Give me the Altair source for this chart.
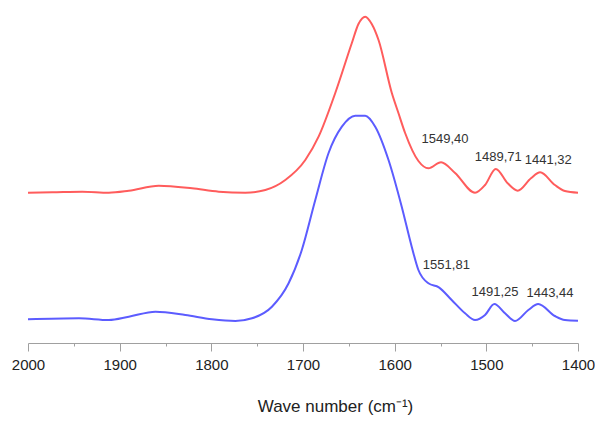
import altair as alt
import pandas as pd

# Red spectrum (upper curve): wavenumber (cm-1) and absorbance (arbitrary units, offset)
red_wn = [2000, 1973.5, 1940.8, 1911.8, 1890.0, 1857.3, 1821.0, 1791.9, 1762.9, 1741.1,
          1719.3, 1697.5, 1683.0, 1664.8, 1646.7, 1639.5, 1632.1, 1625.0, 1617.6, 1603.1,
          1595.9, 1588.6, 1574.1, 1563.2, 1549.4, 1534.1, 1512.3, 1501.4, 1489.7, 1476.7,
          1465.8, 1451.3, 1441.3, 1425.2, 1414.3, 1400]
red_val = [1.503, 1.507, 1.513, 1.503, 1.523, 1.573, 1.547, 1.513, 1.503, 1.53,
           1.63, 1.83, 2.063, 2.5, 3.0, 3.19, 3.263, 3.19, 3.03, 2.5,
           2.3, 2.1, 1.82, 1.747, 1.807, 1.70, 1.503, 1.58, 1.74, 1.597,
           1.523, 1.647, 1.707, 1.58, 1.52, 1.503]

# Blue spectrum (lower curve)
blue_wn = [2000, 1944.4, 1911.8, 1890.0, 1860.9, 1828.3, 1799.3, 1773.8, 1755.7, 1733.9,
           1715.7, 1701.3, 1686.6, 1672.1, 1657.6, 1643.0, 1632.1, 1621.2, 1606.7, 1592.3,
           1581.4, 1574.1, 1563.2, 1551.8, 1537.8, 1523.2, 1512.3, 1501.4, 1491.25, 1479.6,
           1468.7, 1454.2, 1443.4, 1425.2, 1414.3, 1400]
blue_val = [0.237, 0.247, 0.23, 0.263, 0.313, 0.28, 0.237, 0.22, 0.247, 0.363,
            0.597, 0.93, 1.43, 1.9, 2.163, 2.273, 2.273, 2.163, 1.83, 1.363,
            0.963, 0.73, 0.597, 0.557, 0.43, 0.297, 0.23, 0.28, 0.39, 0.297,
            0.22, 0.33, 0.39, 0.27, 0.23, 0.223]

# Peak annotations
label_text = ["1549,40", "1489,71", "1441,32", "1551,81", "1491,25", "1443,44"]
label_wn = [1545.0, 1486.9, 1432.5, 1543.6, 1490.5, 1430.6]
label_val = [2.04, 1.863, 1.83, 0.78, 0.513, 0.497]

tick_values = list(range(2000, 1399, -50))

df = pd.concat([
    pd.DataFrame({"wn": red_wn, "val": red_val, "series": "red"}),
    pd.DataFrame({"wn": blue_wn, "val": blue_val, "series": "blue"}),
])
labels = pd.DataFrame({"wn": label_wn, "val": label_val, "text": label_text})

xscale = alt.Scale(domain=[2000, 1400], nice=False, zero=False)
yscale = alt.Scale(domain=[0, 3.35], nice=False, zero=False)

lines = alt.Chart(df).mark_line(strokeWidth=2, interpolate="monotone").encode(
    x=alt.X("wn:Q", scale=xscale, title="Wave number (cm⁻¹)",
            axis=alt.Axis(values=tick_values, format="d",
                          labelExpr="datum.value % 100 === 0 ? datum.label : ''",
                          labelFlush=False, grid=False,
                          domainColor="#a0a0a0", tickColor="#a0a0a0",
                          tickSize={"condition": {"test": "datum.value % 100 === 0", "value": 8}, "value": 3},
                          labelFont="Liberation Sans", labelFontSize=15, labelColor="#222222",
                          labelPadding=6,
                          titleFont="Liberation Sans", titleFontSize=17, titleFontWeight="normal",
                          titleColor="#222222", titleX=307, titleY=68,
                          titleAlign="center", titleBaseline="alphabetic")),
    y=alt.Y("val:Q", scale=yscale, axis=None),
    color=alt.Color("series:N", scale=alt.Scale(domain=["red", "blue"], range=["#ff5c5c", "#5c5cff"]),
                    legend=None),
    detail="series:N",
)

text = alt.Chart(labels).mark_text(font="Liberation Sans", fontSize=13, color="#333333",
                                   align="center", baseline="middle").encode(
    x=alt.X("wn:Q", scale=xscale),
    y=alt.Y("val:Q", scale=yscale),
    text="text:N",
)

chart = alt.layer(lines, text).properties(
    width=550, height=335,
    autosize=alt.AutoSizeParams(type="none"),
    padding={"left": 20, "top": 0, "right": 17, "bottom": 72},
).configure_view(stroke=None)

chart.save("out.html", embed_options={"renderer": "svg", "actions": False})
